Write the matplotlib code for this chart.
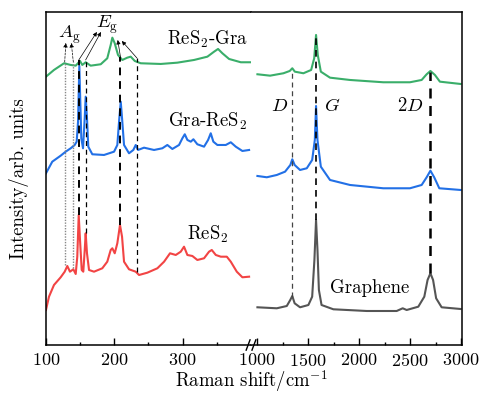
import numpy as np
import matplotlib.pyplot as plt

plt.rcParams['font.family'] = ['cmr10', 'DejaVu Serif']
plt.rcParams['mathtext.fontset'] = 'cm'
plt.rcParams['axes.unicode_minus'] = False
plt.rcParams['axes.formatter.use_mathtext'] = True

# ---- spectra, low-wavenumber part (cm-1, arb. units) ----
gra_res2_lo_x = [100, 111.7, 126.4, 136.2, 143.5, 149.8, 153.1, 158.1, 165.4, 180.1, 189.7, 194.7,
                 197.1, 200.6, 205.4, 211.7, 219.0, 224.0, 229.9, 238.6, 267.9, 292.2, 316.7, 336.2,
                 346.0, 351.8, 358.1, 367.9, 385.1, 398.7]
gra_res2_lo_y = [268.3, 275, 281.7, 280, 279.3, 284, 280, 282.7, 279.3, 280.7, 286.7, 300,
                 307.3, 301.7, 290, 285, 287.3, 288.3, 284, 281.7, 281, 282.3, 285, 288.3,
                 293.3, 296, 291.7, 286, 282.7, 282.7]

res2_gra_lo_x = [100, 109.2, 121.5, 128.8, 136.2, 142.0, 144.9, 146.9, 148.8, 151.7, 154.2, 156.7,
                 158.1, 160.0, 161.9, 167.8, 184.9, 199.6, 204.4, 207.3, 209.4, 211.3, 214.2, 221.5,
                 227.8, 231.3, 234.7, 243.5, 258.1, 270.3, 277.6, 284.9, 294.7, 299.6, 303.1, 306.9,
                 311.9, 315.7, 321.5, 331.3, 337.2, 341.1, 344.9, 350.8, 363.1, 370.4, 377.7, 387.4, 397.2]
res2_gra_lo_y = [171.7, 183.3, 189.3, 193.3, 196.7, 200, 203.3, 223.3, 279, 206.7, 196.7, 227,
                 248.3, 227, 198.3, 190.7, 190, 193.3, 200, 226.7, 243.3, 226.7, 200, 191.7,
                 195, 200, 195, 197.3, 195, 196.7, 200, 196, 200, 206.7, 210.7, 205,
                 203.3, 205.7, 200.7, 198.3, 205, 211.7, 203.3, 200, 200, 202.7, 198.3, 194, 195]

res2_x = [100, 104.4, 111.7, 121.5, 127.4, 131.2, 135.1, 140.0, 143.5, 145.8, 147.9, 149.8, 152.3,
          154.6, 156.7, 158.1, 160.0, 163.0, 170.3, 182.4, 189.7, 194.7, 197.1, 200.6, 204.4, 208.3,
          211.3, 214.2, 221.5, 231.3, 236.2, 248.3, 263.0, 272.8, 281.5, 289.9, 297.2, 302.0, 306.9,
          314.2, 321.5, 331.3, 338.6, 342.6, 348.5, 355.8, 364.6, 370.4, 379.2, 387.4, 397.2]
res2_y = [35, 48.3, 60, 67.7, 73.3, 79, 73.3, 75.7, 71, 88.3, 130, 105, 75,
          73.3, 95, 111.7, 91.7, 75, 73.3, 76.7, 83.3, 95, 96.7, 91.7, 101.7, 120,
          108.3, 83.3, 75.7, 73.3, 70, 72.3, 76.7, 83.3, 91.7, 90, 93.3, 98.3, 90,
          89, 85, 86.7, 93.3, 95, 90, 88.3, 88.3, 83.3, 73.3, 67.7, 68.3]

# ---- spectra, high-wavenumber part ----
gra_res2_hi_x = [1003, 1127, 1258, 1320, 1345, 1370, 1454, 1530, 1560, 1578, 1595, 1625, 1715, 1911,
                 2238, 2499, 2614, 2663, 2700, 2744, 2793, 2996]
gra_res2_hi_y = [270.7, 269.3, 271.7, 274, 276.7, 273.3, 271.7, 275, 286.7, 310, 290, 273.3, 267.3, 265,
                 262.7, 262.7, 265, 270.7, 274, 270, 263.3, 261]

res2_gra_hi_x = [1003, 1095, 1193, 1274, 1326, 1345, 1368, 1421, 1487, 1540, 1566, 1578, 1592, 1625,
                 1715, 1911, 2238, 2499, 2614, 2663, 2700, 2737, 2787, 2996]
res2_gra_hi_y = [169, 167.7, 170, 173.3, 180, 185.7, 180, 175, 176.7, 185, 205, 239, 205, 178.3,
                 165, 160, 156.7, 156.7, 160, 167.7, 174.3, 167.7, 156.7, 155]

graphene_x = [1003, 1193, 1291, 1325, 1345, 1368, 1421, 1503, 1540, 1562, 1578, 1592, 1606, 1632,
              1748, 2075, 2369, 2428, 2467, 2581, 2640, 2672, 2700, 2726, 2756, 2810, 2996]
graphene_y = [37.7, 36.7, 39, 45, 49, 41.7, 37.7, 40, 48.3, 85, 125, 95, 55, 40,
              35.7, 34, 34, 36.7, 35, 38.3, 48.3, 65, 71.7, 65, 46.7, 37.7, 36]

# ---- guide lines (x, y_bottom, y_top) and arrow targets ----
dot_x = [127.4, 140.0]
dot_y0 = [80, 77]
dot_y1 = [283, 283]
dot_arrow_to = [(129, 302), (137, 302)]

dash_x = [148, 158, 209, 233]
dash_y0 = [130, 112, 120, 73]
dash_y1 = [285, 285, 288, 287]
dash_lw = [1.4, 0.9, 1.4, 0.9]
dash_arrow_to = [(174.5, 313), (180.5, 313), (205, 305), (211, 304)]

peak_x = [1345, 1578, 2700]
peak_y0 = [48, 125, 72]
peak_y1 = [275, 310, 273]
peak_lw = [0.9, 1.2, 1.8]
peak_col = ['#444444', 'black', 'black']

green = '#3aae6a'
blue = '#2270e6'
red = '#f24444'
gray = '#555555'

fig = plt.figure(figsize=(4.84, 3.96), dpi=100)
ax1 = fig.add_axes([0.095, 0.1288, 0.4236, 0.841])
ax2 = fig.add_axes([0.5186, 0.1288, 0.436, 0.841])

lw = 1.5
ax1.plot(gra_res2_lo_x, gra_res2_lo_y, color=green, lw=lw, zorder=2)
ax1.plot(res2_gra_lo_x, res2_gra_lo_y, color=blue, lw=lw, zorder=2)
ax1.plot(res2_x, res2_y, color=red, lw=lw, zorder=2)
ax2.plot(gra_res2_hi_x, gra_res2_hi_y, color=green, lw=lw, zorder=2)
ax2.plot(res2_gra_hi_x, res2_gra_hi_y, color=blue, lw=lw, zorder=2)
ax2.plot(graphene_x, graphene_y, color=gray, lw=lw, zorder=2)

# guide lines
for x, y0, y1, (tx, ty) in zip(dot_x, dot_y0, dot_y1, dot_arrow_to):
    ax1.plot([x, x], [y0, y1], color='#888888', lw=1.0, ls=(0, (1, 1)), zorder=3)
    ax1.annotate('', xy=(tx, ty), xytext=(x, y1),
                 arrowprops=dict(arrowstyle='-|>', color='black', lw=0.5, ls=(0, (3, 2)),
                                 mutation_scale=6, shrinkA=0, shrinkB=0))
for x, y0, y1, w, (tx, ty) in zip(dash_x, dash_y0, dash_y1, dash_lw, dash_arrow_to):
    ax1.plot([x, x], [y0, y1], color='black', lw=w, ls=(0, (4, 3)), zorder=3)
    ax1.annotate('', xy=(tx, ty), xytext=(x, y1),
                 arrowprops=dict(arrowstyle='-|>', color='black', lw=0.5,
                                 mutation_scale=6, shrinkA=0, shrinkB=0))
for x, y0, y1, w, c in zip(peak_x, peak_y0, peak_y1, peak_lw, peak_col):
    ax2.plot([x, x], [y0, y1], color=c, lw=w, ls=(0, (4, 3)), zorder=3)

# labels
fs = 13.5
ax1.text(134, 310, r'$A_\mathrm{g}$', fontsize=fs, ha='center', va='center')
ax1.text(190, 320, r'$E_\mathrm{g}$', fontsize=fs, ha='center', va='center')
ax1.text(336, 306, r'ReS$_2$-Gra', fontsize=fs, ha='center', va='center')
ax1.text(336, 224, r'Gra-ReS$_2$', fontsize=fs, ha='center', va='center')
ax1.text(336, 111, r'ReS$_2$', fontsize=fs, ha='center', va='center')
ax2.text(2107, 57, 'Graphene', fontsize=fs, ha='center', va='center')
ax2.text(1220, 239, r'$D$', fontsize=fs, ha='center', va='center')
ax2.text(1735, 239, r'$G$', fontsize=fs, ha='center', va='center')
ax2.text(2500, 239, r'$2D$', fontsize=fs, ha='center', va='center')

for ax in (ax1, ax2):
    ax.set_ylim(0, 333)
    ax.set_yticks([])
    ax.tick_params(axis='x', direction='in', length=5, width=1, labelsize=13, pad=5)
    ax.tick_params(axis='x', which='minor', direction='in', length=2.5, width=1)
    for s in ax.spines.values():
        s.set_linewidth(1.1)

ax1.set_xlim(100, 400)
ax1.set_xticks([100, 200, 300])
ax1.set_xticks([150, 250, 350], minor=True)
ax1.spines['right'].set_visible(False)

ax2.set_xlim(940, 3010)
ax2.set_xticks([1000, 1500, 2000, 2500, 3000])
ax2.set_xticks([1250, 1750, 2250, 2750], minor=True)
ax2.spines['left'].set_visible(False)

# axis break marks
bx = 0.5186
for dx in (-0.006, 0.006):
    fig.add_artist(plt.Line2D([bx + dx - 0.004, bx + dx + 0.004], [0.1288 - 0.013, 0.1288 + 0.013],
                              color='black', lw=1.0, transform=fig.transFigure))

ax1.set_ylabel('Intensity/arb. units', fontsize=fs, labelpad=12)
fig.text(0.52, 1 - 381 / 396, r'Raman shift/cm$^{-1}$', fontsize=fs, ha='center', va='center')

fig.savefig('out.png', dpi=100)
